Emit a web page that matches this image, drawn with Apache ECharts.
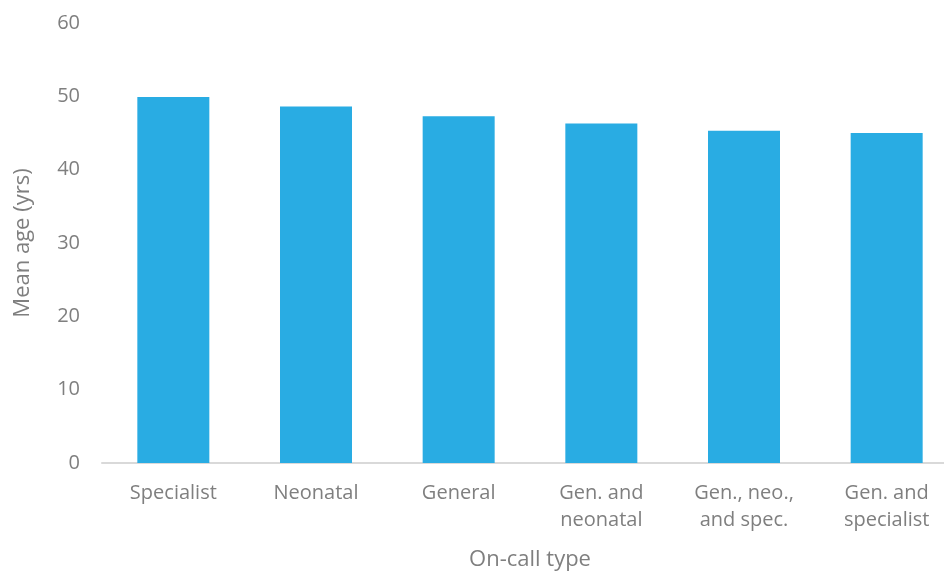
<!DOCTYPE html>
<html>
<head>
<meta charset="utf-8">
<script src="https://cdn.jsdelivr.net/npm/echarts@6/dist/echarts.min.js"></script>
<style>
html,body{margin:0;padding:0;background:#fff;}
#chart{width:944px;height:572px;}
</style>
</head>
<body>
<div id="chart"></div>
<script>
// 各值班类型平均年龄
var categories = ['Specialist', 'Neonatal', 'General', 'Gen. and\nneonatal', 'Gen., neo.,\nand spec.', 'Gen. and\nspecialist'];
var meanAge = [49.9, 48.6, 47.3, 46.3, 45.3, 45.0];

var myChart = echarts.init(document.getElementById('chart'));
var textColor = '#7f7f7f';
var font = 'Open Sans';

var option = {
    backgroundColor: '#fff',
    animation: false,
    grid: {
        left: 102,
        width: 856,
        top: 23,
        bottom: 109,
        containLabel: false,
        outerBoundsMode: 'none'
    },
    xAxis: {
        type: 'category',
        data: categories,
        name: 'On-call type',
        nameLocation: 'middle',
        nameGap: 86,
        nameTextStyle: {color: textColor, fontSize: 22, fontFamily: font},
        axisLine: {lineStyle: {color: '#d9d9d9', width: 2}},
        axisTick: {show: false},
        axisLabel: {
            color: textColor,
            fontSize: 20,
            fontFamily: font,
            lineHeight: 27,
            margin: 17,
            interval: 0
        }
    },
    yAxis: {
        type: 'value',
        min: 0,
        max: 60,
        interval: 10,
        name: 'Mean age (yrs)',
        nameLocation: 'middle',
        nameGap: 68,
        nameTextStyle: {color: textColor, fontSize: 22, fontFamily: font},
        axisLine: {show: false},
        axisTick: {show: false},
        splitLine: {show: false},
        axisLabel: {color: textColor, fontSize: 20, fontFamily: font, margin: 22}
    },
    series: [{
        type: 'bar',
        data: meanAge,
        barWidth: 72,
        itemStyle: {color: '#29ace3'}
    }]
};

myChart.setOption(option);
</script>
</body>
</html>
